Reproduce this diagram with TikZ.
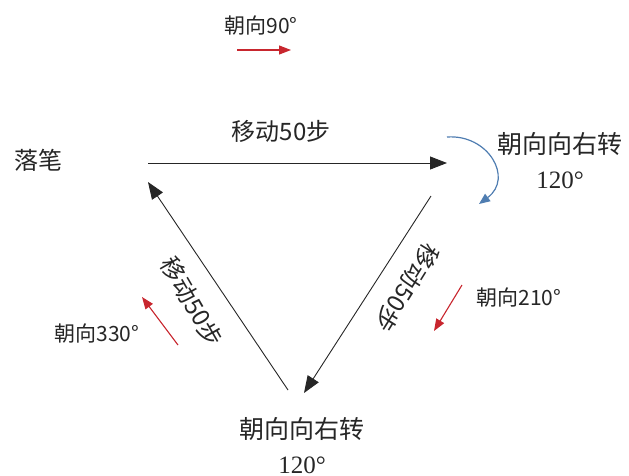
\documentclass[tikz,border=0pt]{standalone}
\usepackage{fontspec}
\setmainfont{Liberation Serif}
\newfontfamily\cjk{Noto Sans CJK SC}
\usetikzlibrary{arrows.meta}
\definecolor{myred}{HTML}{C8262E}
\definecolor{myblue}{HTML}{4F7DB1}
\definecolor{ink}{HTML}{262626}
\begin{document}
\begin{tikzpicture}[x=1pt,y=-1pt,
  move/.style={draw=black!85, line width=0.9pt, -{Triangle[length=17pt,width=13pt]}},
  dir/.style={draw=myred, line width=1.1pt, -{Triangle[length=12pt,width=9pt]}},
  lab/.style={font=\cjk\fontsize{21}{24}\selectfont, inner sep=0pt, text=ink},
  big/.style={font=\fontsize{25}{35}\selectfont, inner sep=0pt, align=center, text=ink},
  mid/.style={font=\cjk\fontsize{24}{28}\selectfont, inner sep=0pt, text=ink}]
\useasboundingbox (0,0) rectangle (629,475);
% heading 90
\node[lab] (h90) at (261,26) {朝向90°};
\coordinate (h90a) at (237,50); \coordinate (h90b) at (291,50);
\draw[dir] (h90a) -- (h90b);
% pen down
\node[lab, font=\cjk\fontsize{24}{28}\selectfont] (pen) at (38,160) {落笔};
% triangle
\coordinate (t1) at (148,163); \coordinate (t2) at (447,163);
\coordinate (r1) at (431,196); \coordinate (r2) at (304,393);
\coordinate (l1) at (288,390); \coordinate (l2) at (148,182);
\draw[move] (t1) -- (t2);
\draw[move] (r1) -- (r2);
\draw[move] (l1) -- (l2);
\node[mid] (m1) at (281,131) {移动50步};
\node[mid, rotate=238] (m2) at (407,288) {移动50步};
\node[mid, rotate=-60] (m3) at (192,302) {移动50步};
% turn right
\coordinate (c1) at (447,137); \coordinate (c2) at (479,204);
\draw[myblue, line width=1.2pt, -{Triangle[length=11pt,width=9pt]}] (c1) .. controls (488,134) and (514,178) .. (c2);
\node[big] (tr1) at (560,161) {{\cjk 朝向向右转}\\120°};
\node[big] (tr2) at (302,446) {{\cjk 朝向向右转}\\120°};
% heading 210
\node[lab] (h210) at (519,298) {朝向210°};
\coordinate (h210a) at (462,285); \coordinate (h210b) at (434,331);
\draw[dir] (h210a) -- (h210b);
% heading 330
\node[lab] (h330) at (97,334) {朝向330°};
\coordinate (h330a) at (178,345); \coordinate (h330b) at (142,297);
\draw[dir] (h330a) -- (h330b);
\end{tikzpicture}
\end{document}
